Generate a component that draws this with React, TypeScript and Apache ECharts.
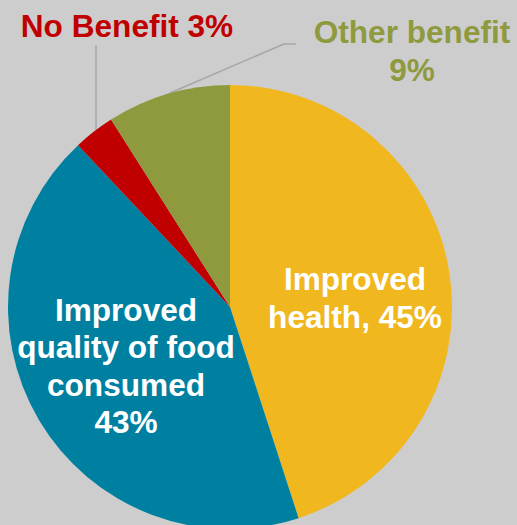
import React, { useEffect, useRef } from "react";
import * as echarts from "echarts";

const categories = ["Improved health", "Improved quality of food consumed", "No Benefit", "Other benefit"];
const values = [45, 43, 3, 9];
const labelTexts = [
  "Improved\nhealth, 45%",
  "Improved\nquality of food\nconsumed\n43%",
  "No Benefit 3%",
  "Other benefit\n9%",
];
const colors = ["#F0B71F", "#0080A0", "#C00000", "#8F9A3F"];
const labelColors = ["#FFFFFF", "#FFFFFF", "#C00000", "#8F9A3F"];

const labelPlacements: any[] = [
  { x: 355, y: 298, align: "center", verticalAlign: "middle" },
  { x: 126, y: 366, align: "center", verticalAlign: "middle" },
  { x: 127, y: 26, align: "center", verticalAlign: "middle", labelLinePoints: [[96, 130], [96, 88], [96, 45]] },
  { x: 412, y: 51, align: "center", verticalAlign: "middle", labelLinePoints: [[170, 93], [284, 44], [296, 44]] },
];

export default function App() {
  const ref = useRef<HTMLDivElement>(null);
  useEffect(() => {
    if (!ref.current) return;
    const chart = echarts.init(ref.current, null, { renderer: "svg" });
    const data = categories.map((name, i) => {
      const outside = i >= 2;
      return {
        name,
        value: values[i],
        itemStyle: { color: colors[i] },
        label: {
          show: true,
          position: outside ? "outside" : "inside",
          formatter: labelTexts[i],
          color: labelColors[i],
          fontSize: 31.6,
          lineHeight: 37.5,
          fontWeight: "bold",
          fontFamily: "Liberation Sans, Arial, sans-serif",
          align: "center",
        },
        labelLine: {
          show: outside,
          lineStyle: { color: "#A6A6A6", width: 1.5 },
        },
      };
    });
    chart.setOption({
      animation: false,
      backgroundColor: "#CDCDCD",
      series: [
        {
          type: "pie",
          center: [230, 307],
          radius: 222,
          startAngle: 90,
          clockwise: true,
          avoidLabelOverlap: false,
          itemStyle: { borderWidth: 0 },
          emphasis: { disabled: true },
          data,
          labelLayout: (p: any) => labelPlacements[p.dataIndex],
        },
      ],
    });
    return () => chart.dispose();
  }, []);
  return (
    <div
      ref={ref}
      style={{ position: "absolute", left: 0, top: 0, width: 517, height: 525 }}
    />
  );
}
